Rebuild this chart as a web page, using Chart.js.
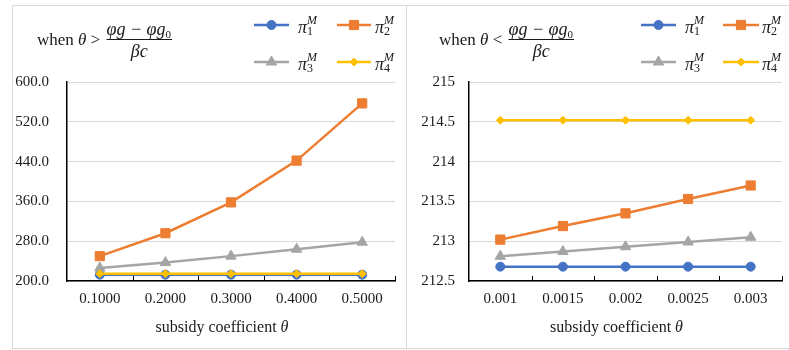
<!DOCTYPE html>
<html>
<head>
<meta charset="utf-8">
<script src="https://cdn.jsdelivr.net/npm/chart.js@4.4.0/dist/chart.umd.min.js"></script>
<style>
  html, body { margin: 0; padding: 0; background: #fff; overflow: hidden; width: 789px; height: 350px; }
  .panel { position: absolute; top: 5px; border: 1px solid #d9d9d9; background: #fff; }
  #panelHigh { left: 12px; }
  #panelLow { left: 407px; border-left: none; }
  canvas { display: block; }
</style>
</head>
<body>
<div class="panel" id="panelHigh"><canvas id="chartHigh" width="393" height="342"></canvas></div>
<div class="panel" id="panelLow"><canvas id="chartLow" width="392" height="342"></canvas></div>
<script>
// panel 1: theta above threshold
var categoriesHigh = ['0.1000', '0.2000', '0.3000', '0.4000', '0.5000'];
var pi1High = [212.7, 212.7, 212.7, 212.7, 212.7];
var pi2High = [250, 296, 358, 442, 557];
var pi3High = [226, 237, 250, 264, 278];
var pi4High = [214.5, 214.5, 214.5, 214.5, 214.5];
var yTicksHigh = [200, 280, 360, 440, 520, 600];

// panel 2: theta below threshold
var categoriesLow = ['0.001', '0.0015', '0.002', '0.0025', '0.003'];
var pi1Low = [212.68, 212.68, 212.68, 212.68, 212.68];
var pi2Low = [213.02, 213.19, 213.35, 213.53, 213.70];
var pi3Low = [212.81, 212.87, 212.93, 212.99, 213.05];
var pi4Low = [214.52, 214.52, 214.52, 214.52, 214.52];
var yTicksLow = [212.5, 213, 213.5, 214, 214.5, 215];

var seriesStyles = [
  { color: '#4472C4', pointStyle: 'circle', radius: 4.5 },
  { color: '#ED7D31', pointStyle: 'rect', radius: 6.5 },
  { color: '#A5A5A5', pointStyle: 'triangle', radius: 6 },
  { color: '#FFC000', pointStyle: 'rectRot', radius: 4 }
];

var serif = '"Liberation Serif", "Times New Roman", serif';
var textColor = '#1a1a1a';

function drawPiLabel(ctx, x, y, idx) {
  ctx.fillStyle = textColor;
  ctx.textAlign = 'left';
  ctx.textBaseline = 'alphabetic';
  ctx.font = 'italic 18px ' + serif;
  ctx.fillText('π', x, y + 8);
  var w = ctx.measureText('π').width;
  ctx.font = 'italic 12px ' + serif;
  ctx.fillText('M', x + w, y - 1);
  ctx.font = '12px ' + serif;
  ctx.fillText(String(idx), x + w, y + 10);
}

function drawCondition(ctx, x, y, rel) {
  ctx.fillStyle = textColor;
  ctx.strokeStyle = textColor;
  ctx.textAlign = 'left';
  ctx.textBaseline = 'alphabetic';
  ctx.font = '17px ' + serif;
  ctx.fillText('when ', x, y);
  x += ctx.measureText('when ').width;
  ctx.font = 'italic 17px ' + serif;
  ctx.fillText('θ', x, y);
  x += ctx.measureText('θ').width;
  ctx.font = '17px ' + serif;
  ctx.fillText(' ' + rel + ' ', x, y);
  x += ctx.measureText(' ' + rel + ' ').width + 2;

  // fraction
  ctx.font = 'italic 18px ' + serif;
  var numMain = 'φg − φg';
  var wMain = ctx.measureText(numMain).width;
  ctx.font = '11px ' + serif;
  var wSub = ctx.measureText('0').width;
  var numW = wMain + wSub + 1;
  ctx.font = 'italic 18px ' + serif;
  ctx.fillText(numMain, x, y - 10);
  ctx.font = '11px ' + serif;
  ctx.fillText('0', x + wMain, y - 7);
  ctx.lineWidth = 1;
  ctx.beginPath();
  ctx.moveTo(x, y - 5.5);
  ctx.lineTo(x + numW, y - 5.5);
  ctx.stroke();
  ctx.font = 'italic 18px ' + serif;
  var dW = ctx.measureText('βc').width;
  ctx.fillText('βc', x + (numW - dW) / 2, y + 12);
}

var panelDecor = {
  id: 'panelDecor',
  afterDraw: function (chart, args, opts) {
    var ctx = chart.ctx;
    var area = chart.chartArea;
    var xs = chart.scales.x;
    ctx.save();

    // tick marks between categories, pointing up
    var n = chart.data.labels.length;
    var step = (xs.right - xs.left) / n;
    ctx.strokeStyle = '#000';
    ctx.lineWidth = 1;
    ctx.beginPath();
    for (var i = 1; i <= n; i++) {
      var tx = Math.round(xs.left + i * step) + 0.5;
      ctx.moveTo(tx, area.bottom);
      ctx.lineTo(tx, area.bottom - 5);
    }
    ctx.stroke();

    // condition title
    drawCondition(ctx, opts.titleX, opts.titleY, opts.rel);

    // legend 2x2
    chart.data.datasets.forEach(function (ds, idx) {
      var row = Math.floor(idx / 2);
      var col = opts.legendCols[idx % 2];
      var y = opts.legendRows[row];
      ctx.strokeStyle = ds.borderColor;
      ctx.fillStyle = ds.backgroundColor;
      ctx.lineWidth = 2.5;
      ctx.beginPath();
      ctx.moveTo(col.x0, y);
      ctx.lineTo(col.x1, y);
      ctx.stroke();
      ctx.lineWidth = 1;
      Chart.helpers.drawPoint(ctx, {
        pointStyle: ds.pointStyle,
        radius: ds.pointRadius,
        rotation: 0,
        borderWidth: 1
      }, (col.x0 + col.x1) / 2, y);
      drawPiLabel(ctx, col.label, y, idx + 1);
    });

    // x axis title
    ctx.fillStyle = textColor;
    ctx.textBaseline = 'alphabetic';
    ctx.textAlign = 'left';
    ctx.font = '16px ' + serif;
    var t1 = 'subsidy coefficient ';
    var w1 = ctx.measureText(t1).width;
    ctx.font = 'italic 16px ' + serif;
    var w2 = ctx.measureText('θ').width;
    var cx = (area.left + area.right) / 2 - 9;
    var sx = cx - (w1 + w2) / 2;
    ctx.font = '16px ' + serif;
    ctx.fillText(t1, sx, opts.axisTitleY);
    ctx.font = 'italic 16px ' + serif;
    ctx.fillText('θ', sx + w1, opts.axisTitleY);

    ctx.restore();
  }
};

function makeDatasets(values) {
  return values.map(function (data, i) {
    var s = seriesStyles[i];
    return {
      label: 'π' + (i + 1),
      data: data,
      order: values.length - 1 - i, // later series drawn on top
      borderColor: s.color,
      backgroundColor: s.color,
      borderWidth: 2.5,
      pointStyle: s.pointStyle,
      pointRadius: s.radius,
      pointHoverRadius: s.radius,
      pointBorderWidth: 1,
      tension: 0
    };
  });
}

function createChart(canvasId, labels, values, yTicks, fmt, layout, decor) {
  var ctx = document.getElementById(canvasId).getContext('2d');
  return new Chart(ctx, {
    type: 'line',
    data: { labels: labels, datasets: makeDatasets(values) },
    options: {
      responsive: false,
      animation: false,
      layout: { padding: { top: 76, left: 0, right: layout.right, bottom: 0 } },
      plugins: {
        legend: { display: false },
        tooltip: { enabled: false },
        panelDecor: decor
      },
      scales: {
        x: {
          offset: true,
          grid: { display: true, drawOnChartArea: false, drawTicks: false },
          border: { display: true, color: '#000', width: 1.5 },
          ticks: { font: { family: serif, size: 15 }, color: textColor, padding: 9, maxRotation: 0 },
          afterFit: function (scale) { scale.height = 67; }
        },
        y: {
          min: yTicks[0],
          max: yTicks[yTicks.length - 1],
          afterBuildTicks: function (scale) {
            scale.ticks = yTicks.map(function (v) { return { value: v }; });
          },
          grid: { color: '#d9d9d9', lineWidth: 1, drawTicks: false },
          border: { display: true, color: '#000', width: 1.5 },
          ticks: {
            font: { family: serif, size: 15 },
            color: textColor,
            padding: layout.yPad,
            callback: function (value) { return fmt(value); }
          },
          afterFit: function (scale) { scale.width = layout.yWidth; }
        }
      }
    },
    plugins: [panelDecor]
  });
}

document.addEventListener('DOMContentLoaded', function () {
  createChart('chartHigh', categoriesHigh, [pi1High, pi2High, pi3High, pi4High], yTicksHigh,
    function (v) { return v.toFixed(1); },
    { right: 11, yWidth: 54, yPad: 18 },
    {
      titleX: 24, titleY: 39, rel: '>',
      legendRows: [19, 56],
      legendCols: [{ x0: 241, x1: 276, label: 285 }, { x0: 324, x1: 358, label: 362 }],
      axisTitleY: 326
    });

  createChart('chartLow', categoriesLow, [pi1Low, pi2Low, pi3Low, pi4Low], yTicksLow,
    function (v) { return String(v); },
    { right: 17, yWidth: 62, yPad: 14 },
    {
      titleX: 32, titleY: 39, rel: '<',
      legendRows: [19, 56],
      legendCols: [{ x0: 234, x1: 269, label: 278 }, { x0: 316, x1: 352, label: 355 }],
      axisTitleY: 326
    });
});
</script>
</body>
</html>
